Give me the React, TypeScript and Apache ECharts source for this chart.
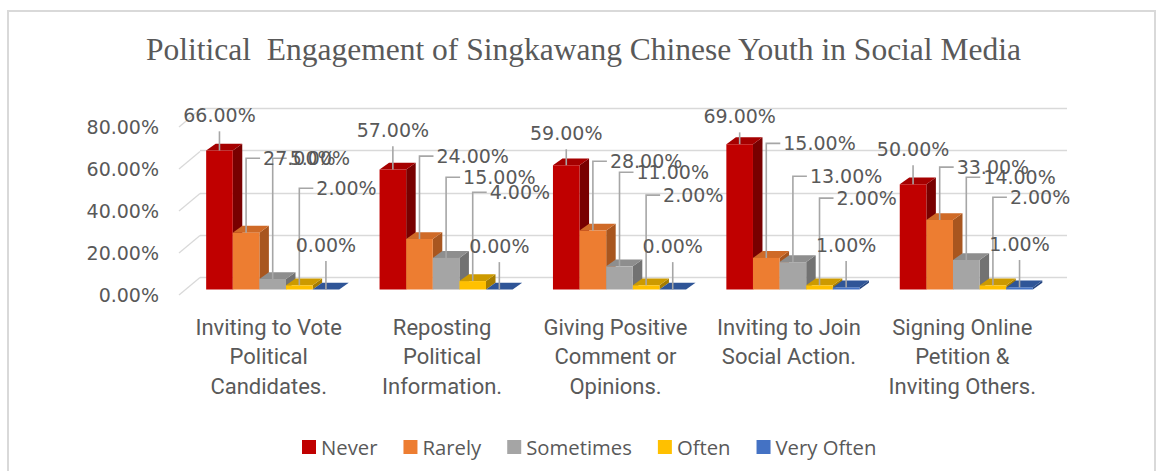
import React, { useEffect, useRef } from "react";
import * as echarts from "echarts";

const titleText = "Political  Engagement of Singkawang Chinese Youth in Social Media";
const categories = [
  "Inviting to Vote\nPolitical\nCandidates.",
  "Reposting\nPolitical\nInformation.",
  "Giving Positive\nComment or\nOpinions.",
  "Inviting to Join\nSocial Action.",
  "Signing Online\nPetition &\nInviting Others.",
];
const seriesNames = ["Never", "Rarely", "Sometimes", "Often", "Very Often"];
const never = [66, 57, 59, 69, 50];
const rarely = [27, 24, 28, 15, 33];
const sometimes = [5, 15, 11, 13, 14];
const often = [2, 4, 2, 2, 2];
const veryOften = [0, 0, 0, 1, 1];
const yTicks = [0, 20, 40, 60, 80];

// where each data label sits, in axis value units (manually placed labels in the original)
const neverLabelAt = [82.7, 75.6, 74.2, 82.2, 66.6];
const rarelyLabelAt = [62.3, 63.3, 60.9, 69.4, 58.1];
const sometimesLabelAt = [62.3, 53.3, 55.7, 53.8, 53.3];
const oftenLabelAt = [48.1, 46.2, 44.8, 43.4, 43.8];
const veryOftenLabelAt = [21.1, 20.6, 20.6, 21.1, 21.6];

const values = [never, rarely, sometimes, often, veryOften];
const labelAt = [neverLabelAt, rarelyLabelAt, sometimesLabelAt, oftenLabelAt, veryOftenLabelAt];
const faces = [
  { front: "#C00000", top: "#A50000", side: "#780000", mode: "above" },
  { front: "#ED7D31", top: "#CF6A27", side: "#A8561F", mode: "right" },
  { front: "#A5A5A5", top: "#8E8E8E", side: "#727272", mode: "right" },
  { front: "#FFC000", top: "#CC9A00", side: "#A67D00", mode: "right" },
  { front: "#4472C4", top: "#2F5597", side: "#264680", mode: "above" },
];

const DX = 9.5;
const DY = -6.8;
const LABEL_FONT = '19px "DejaVu Sans"';
const TEXT = "#595959";
const LEADER = "#A6A6A6";

export default function App() {
  const ref = useRef<HTMLDivElement>(null);
  useEffect(() => {
    if (!ref.current) return;
    const chart = echarts.init(ref.current, null, { renderer: "svg" });

    const barSeries = seriesNames.map((name, si) => ({
      type: "custom",
      name,
      xAxisIndex: 2,
      yAxisIndex: 2,
      itemStyle: { color: faces[si].front },
      encode: { x: 0, y: 1 },
      data: values[si].map((v, i) => [i, v, labelAt[si][i]]),
      renderItem: (params: any, api: any) => {
        const c = api.value(0);
        const v = api.value(1);
        const lv = api.value(2);
        const b = api.coord([c, 0]);
        const t = api.coord([c, v]);
        const l = api.coord([c, lv]);
        const band = api.size([1, 0])[0];
        const w = band * 0.1535;
        const x0 = b[0] + 4 + (si - 2.5) * w;
        const x1 = x0 + w;
        const yb = b[1];
        const yt = t[1];
        const cx = x0 + w / 2;
        const f = faces[si];
        const children: any[] = [
          {
            type: "polygon",
            shape: { points: [[x1, yt], [x1 + DX, yt + DY], [x1 + DX, yb + DY], [x1, yb]] },
            style: { fill: f.side },
          },
          {
            type: "polygon",
            shape: { points: [[x0, yt], [x1, yt], [x1 + DX, yt + DY], [x0 + DX, yt + DY]] },
            style: { fill: f.top },
          },
          {
            type: "rect",
            shape: { x: x0, y: yt, width: w, height: Math.max(0, yb - yt) },
            style: { fill: f.front },
          },
        ];
        const txt = v.toFixed(2) + "%";
        if (f.mode === "above") {
          children.push({
            type: "polyline",
            z2: 20,
            shape: { points: [[cx, l[1] + 16], [cx, yt]] },
            style: { stroke: LEADER, lineWidth: 1.6, fill: "none" },
          });
          children.push({
            type: "text",
            z2: 30,
            style: {
              text: txt, x: cx, y: l[1], font: LABEL_FONT, fill: TEXT,
              textAlign: "center", textVerticalAlign: "middle",
            },
          });
        } else {
          children.push({
            type: "polyline",
            z2: 20,
            shape: { points: [[cx, yt], [cx, l[1]], [cx + 14, l[1]]] },
            style: { stroke: LEADER, lineWidth: 1.6, fill: "none" },
          });
          children.push({
            type: "text",
            z2: 30,
            style: {
              text: txt, x: cx + 17, y: l[1], font: LABEL_FONT, fill: TEXT,
              textAlign: "left", textVerticalAlign: "middle",
            },
          });
        }
        return { type: "group", children };
      },
    }));

    const option: any = {
      animation: false,
      backgroundColor: "#ffffff",
      graphic: [
        {
          type: "rect",
          shape: { x: 8, y: 11, width: 1147, height: 500 },
          style: { fill: "none", stroke: "#D9D9D9", lineWidth: 2 },
          silent: true,
        },
        {
          type: "text",
          x: 583.5,
          y: 49.5,
          style: {
            text: titleText,
            font: '31.5px "Liberation Serif"',
            fill: TEXT,
            textAlign: "center",
            textVerticalAlign: "middle",
          },
        },
      ],
      legend: {
        data: seriesNames,
        left: 297,
        top: 432,
        icon: "rect",
        itemWidth: 14,
        itemHeight: 14,
        itemGap: 26,
        textStyle: { fontFamily: "Open Sans", fontSize: 20.3, color: TEXT, lineHeight: 20 },
      },
      grid: [
        // back wall with gridlines
        { left: 200, right: 89, top: 108, height: 169.5 },
        // front plane: y-axis labels and side-wall ticks
        { left: 179, width: 100, top: 127, height: 168 },
        // bars
        { left: 182, right: 107, top: 121, height: 168.5 },
      ],
      xAxis: [
        { gridIndex: 0, type: "value", min: 0, max: 1, show: false },
        { gridIndex: 1, type: "value", min: 0, max: 1, show: false },
        {
          gridIndex: 2,
          type: "category",
          data: categories,
          axisLine: { show: false },
          axisTick: { show: false },
          axisLabel: {
            interval: 0,
            margin: 23,
            fontFamily: "Roboto",
            fontSize: 22,
            lineHeight: 29.5,
            color: TEXT,
          },
        },
      ],
      yAxis: [
        {
          gridIndex: 0, type: "value", min: 0, max: 80, interval: 20,
          axisLabel: { show: false }, axisLine: { show: false }, axisTick: { show: false },
          splitLine: { show: true, lineStyle: { color: "#D9D9D9", width: 1.3 } },
        },
        {
          gridIndex: 1, type: "value", min: 0, max: 80, interval: 20,
          axisLine: { show: false }, axisTick: { show: false }, splitLine: { show: false },
          axisLabel: {
            margin: 20,
            fontFamily: "DejaVu Sans",
            fontSize: 19,
            color: TEXT,
            formatter: (v: number) => v.toFixed(2) + "%",
          },
        },
        {
          gridIndex: 2, type: "value", min: 0, max: 80, interval: 20, show: false,
          splitLine: { show: false },
        },
      ],
      series: [
        {
          type: "custom",
          xAxisIndex: 1,
          yAxisIndex: 1,
          silent: true,
          encode: { x: 0, y: 1 },
          data: yTicks.map((v) => [0, v]),
          renderItem: (params: any, api: any) => {
            const p = api.coord([0, api.value(1)]);
            return {
              type: "line",
              shape: { x1: p[0], y1: p[1], x2: p[0] + 21, y2: p[1] - 17.5 },
              style: { stroke: "#D9D9D9", lineWidth: 1.3 },
            };
          },
        },
        ...barSeries,
      ],
    };
    chart.setOption(option);
    return () => chart.dispose();
  }, []);
  return (
    <div
      ref={ref}
      style={{ position: "fixed", left: 0, top: 0, width: 1156, height: 471 }}
    />
  );
}
